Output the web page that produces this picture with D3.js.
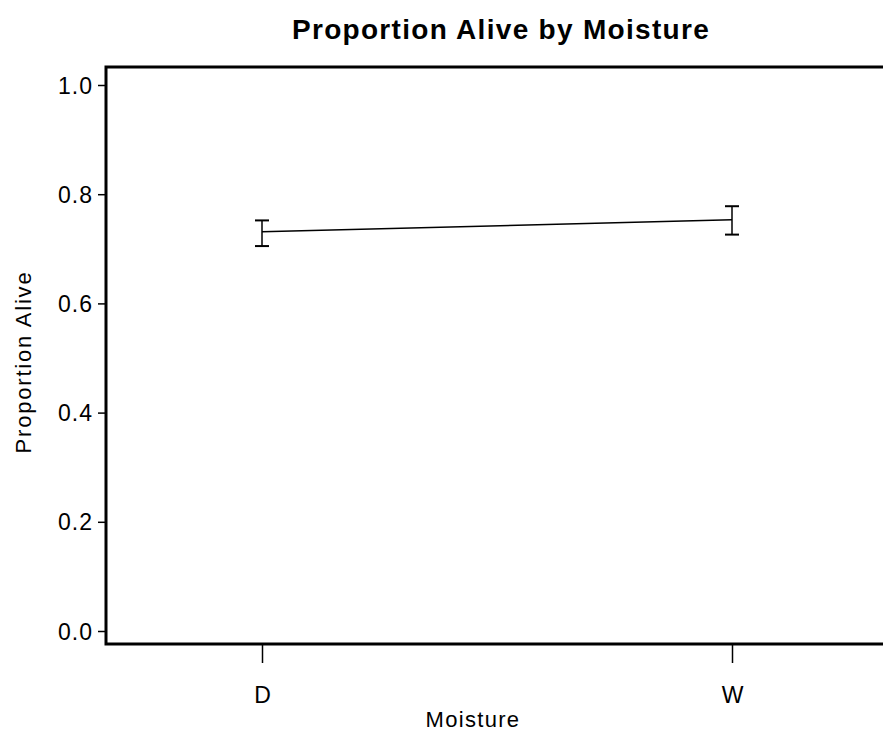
<!DOCTYPE html>
<html>
<head>
<meta charset="utf-8">
<script src="https://cdn.jsdelivr.net/npm/d3@7"></script>
<style>
  body { margin: 0; background: #fff; }
  svg { display: block; }
  text { font-family: 'Liberation Sans', Arial, sans-serif; fill: #000; }
</style>
</head>
<body>
<div id="chart"></div>
<script>
const moisture = ['D', 'W']
const meanAlive = [0.731, 0.753]
const lowerAlive = [0.705, 0.726]
const upperAlive = [0.752, 0.778]
const yTicks = [0, 0.2, 0.4, 0.6, 0.8, 1.0]

const W = 883
const H = 736

const frame = { left: 106, top: 67, right: 900, bottom: 644 }

const svg = d3.select('#chart')
  .append('svg')
  .attr('width', W)
  .attr('height', H)

const x = d3.scalePoint().domain(moisture).range([262, 732])
const y = d3.scaleLinear().domain([0, 1]).range([631, 85])

const points = moisture.map((m, i) => ({
  m: m, mean: meanAlive[i], lo: lowerAlive[i], hi: upperAlive[i]
}))

// frame
svg.append('rect')
  .attr('x', frame.left)
  .attr('y', frame.top)
  .attr('width', frame.right - frame.left)
  .attr('height', frame.bottom - frame.top)
  .attr('fill', 'none')
  .attr('stroke', '#000')
  .attr('stroke-width', 3)

// y axis ticks
const yAxis = svg.append('g')
  .attr('transform', 'translate(' + frame.left + ',0)')
  .call(d3.axisLeft(y).tickValues(yTicks).tickFormat(d3.format('.1f')).tickSize(8).tickPadding(5))
yAxis.select('.domain').remove()
yAxis.selectAll('line').attr('stroke-width', 1.5)
yAxis.selectAll('text')
  .style('font-size', '23px')
  .style('letter-spacing', '1px')
  .attr('dy', '0.35em')

// x axis ticks
const xAxis = svg.append('g')
  .attr('transform', 'translate(0,' + frame.bottom + ')')
  .call(d3.axisBottom(x).tickSize(19).tickPadding(22))
xAxis.select('.domain').remove()
xAxis.selectAll('line').attr('stroke-width', 1.5)
xAxis.selectAll('text').style('font-size', '23px').attr('dy', '0')
  .attr('y', 59)

// mean line
svg.append('path')
  .datum(points)
  .attr('fill', 'none')
  .attr('stroke', '#000')
  .attr('stroke-width', 1.5)
  .attr('d', d3.line().x(d => x(d.m)).y(d => y(d.mean)))

// error bars
const bars = svg.selectAll('.err')
  .data(points)
  .enter()
  .append('g')
  .attr('class', 'err')

bars.append('line')
  .attr('x1', d => x(d.m)).attr('x2', d => x(d.m))
  .attr('y1', d => y(d.lo)).attr('y2', d => y(d.hi))
  .attr('stroke', '#000').attr('stroke-width', 1.5)

bars.append('line')
  .attr('x1', d => x(d.m) - 7).attr('x2', d => x(d.m) + 7)
  .attr('y1', d => y(d.hi)).attr('y2', d => y(d.hi))
  .attr('stroke', '#000').attr('stroke-width', 2)

bars.append('line')
  .attr('x1', d => x(d.m) - 7).attr('x2', d => x(d.m) + 7)
  .attr('y1', d => y(d.lo)).attr('y2', d => y(d.lo))
  .attr('stroke', '#000').attr('stroke-width', 2)

// title
svg.append('text')
  .attr('x', 501)
  .attr('y', 39)
  .attr('text-anchor', 'middle')
  .style('font-size', '28px')
  .style('font-weight', 'bold')
  .style('letter-spacing', '1.3px')
  .text('Proportion Alive by Moisture')

// axis titles
svg.append('text')
  .attr('x', 473)
  .attr('y', 727)
  .attr('text-anchor', 'middle')
  .style('font-size', '22px')
  .style('letter-spacing', '1.3px')
  .text('Moisture')

svg.append('text')
  .attr('transform', 'translate(31,362) rotate(-90)')
  .attr('text-anchor', 'middle')
  .style('font-size', '22px')
  .style('letter-spacing', '1.8px')
  .text('Proportion Alive')
</script>
</body>
</html>
